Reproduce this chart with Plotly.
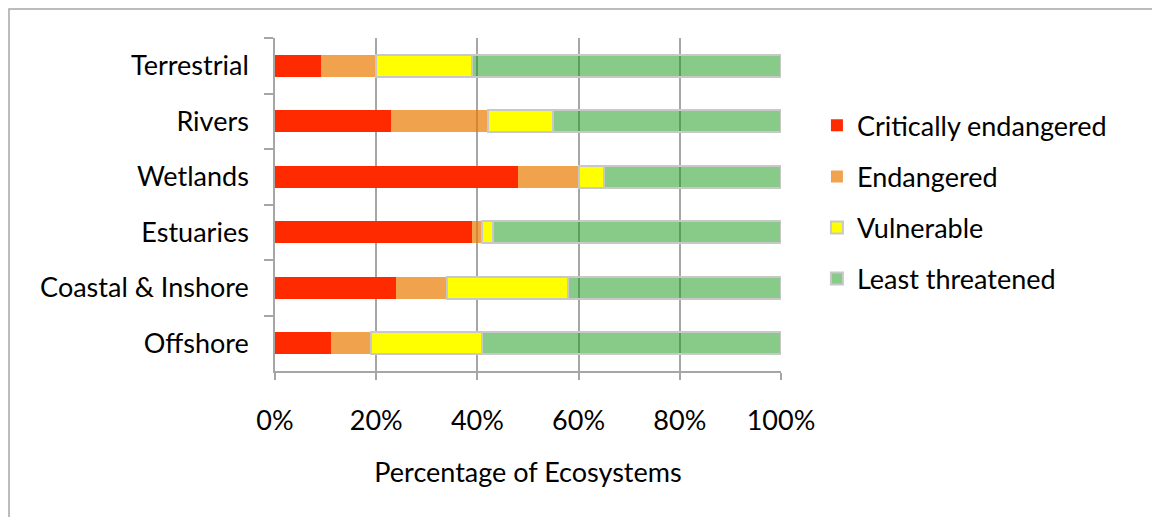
import plotly.graph_objects as go

# Ecosystem types, top to bottom
categories = ["Terrestrial", "Rivers", "Wetlands", "Estuaries", "Coastal & Inshore", "Offshore"]

# Share of ecosystem types in each threat status (%)
critically_endangered = [9, 23, 48, 39, 24, 11]
endangered = [11, 19, 12, 2, 10, 8]
vulnerable = [19, 13, 5, 2, 24, 22]
least_threatened = [61, 45, 35, 57, 42, 59]

tick_values = [0, 20, 40, 60, 80, 100]
tick_labels = ["0%", "20%", "40%", "60%", "80%", "100%"]

FONT = "Lato"
GREY = "#A6A6A6"

series = [
    ("Critically endangered", critically_endangered, "#FF2A00", None),
    ("Endangered", endangered, "rgba(234,124,0,0.7)", None),
    ("Vulnerable", vulnerable, "#FFFF00", "#C8C8C8"),
    ("Least threatened", least_threatened, "rgba(17,150,17,0.5)", "#C8C8C8"),
]

fig = go.Figure()
for i, (name, vals, color, edge) in enumerate(series):
    fig.add_trace(go.Bar(
        y=categories,
        x=vals,
        name=name,
        orientation="h",
        legendgroup=str(i),
        marker=dict(
            color=color,
            line=dict(color=edge if edge else "rgba(0,0,0,0)", width=2 if edge else 0),
        ),
    ))

# Chart frame
fig.add_shape(
    type="rect", xref="paper", yref="paper",
    x0=(9 - 275) / 506, x1=(1200 - 275) / 506,
    y0=(371 - 560) / 333, y1=(371 - 9) / 333,
    line=dict(color=GREY, width=1.5), fillcolor="rgba(0,0,0,0)", layer="below",
)

fig.update_layout(
    width=1152, height=517,
    margin=dict(l=275, r=371, t=38, b=146),
    barmode="stack",
    bargap=0.6,
    paper_bgcolor="white",
    plot_bgcolor="white",
    font=dict(family=FONT, size=27, color="#000000"),
    legend=dict(
        x=1.071, xanchor="left", y=0.81, yanchor="top",
        traceorder="grouped", tracegroupgap=13,
        font=dict(family=FONT, size=27, color="#000000"),
        bgcolor="rgba(0,0,0,0)",
    ),
    xaxis=dict(
        range=[0, 100],
        tickvals=tick_values, ticktext=tick_labels,
        showgrid=True, gridcolor=GREY, gridwidth=1.5,
        showline=True, linecolor=GREY, linewidth=1.5,
        ticks="outside", ticklen=7, tickcolor=GREY, tickwidth=1.5,
        ticklabelstandoff=18,
        zeroline=False,
        title=dict(text="Percentage of Ecosystems", standoff=28,
                   font=dict(family=FONT, size=27)),
        tickfont=dict(family=FONT, size=27),
        fixedrange=True,
    ),
    yaxis=dict(
        categoryorder="array", categoryarray=categories,
        autorange="reversed",
        showline=True, linecolor=GREY, linewidth=1.5,
        ticks="outside", tickson="boundaries", ticklen=9,
        tickcolor=GREY, tickwidth=1.5,
        showgrid=False,
        tickfont=dict(family=FONT, size=27),
        ticklabelstandoff=19,
        fixedrange=True,
    ),
)

fig.write_html("out.html")
